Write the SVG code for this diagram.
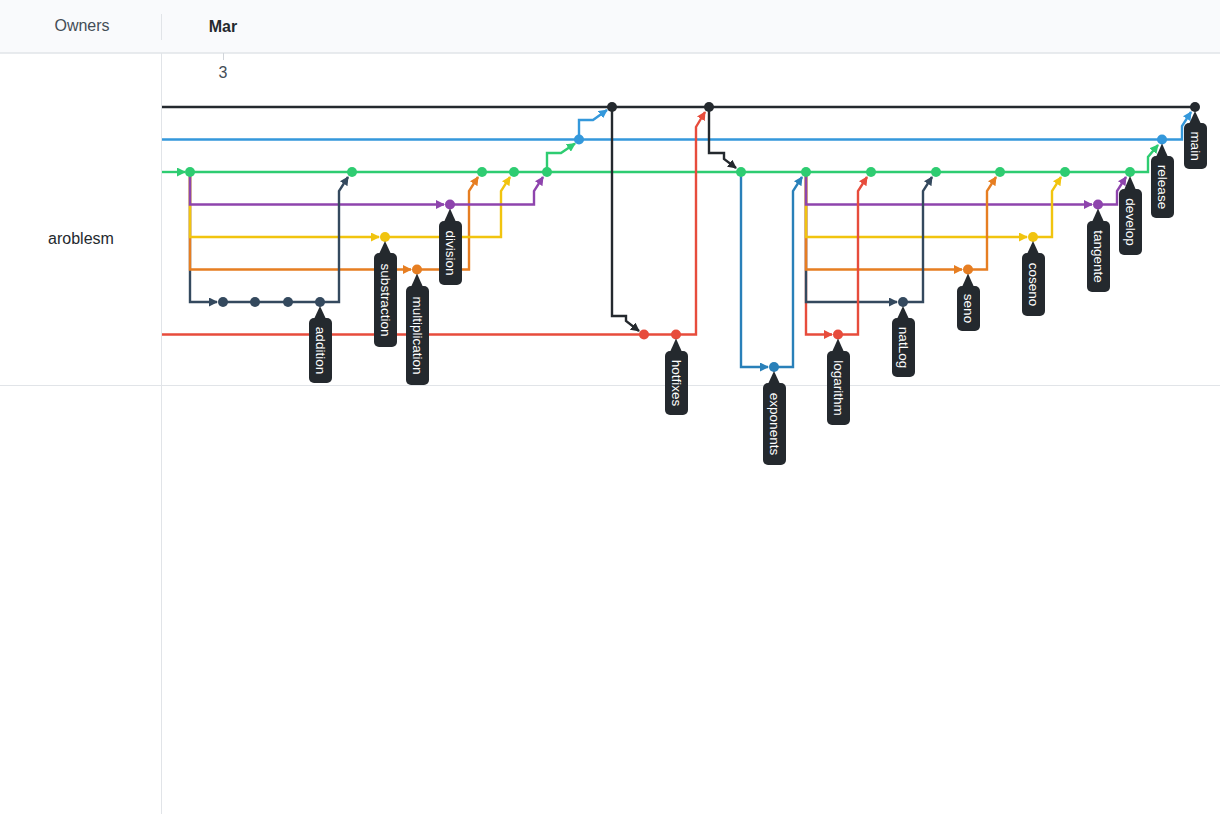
<svg xmlns="http://www.w3.org/2000/svg" width="1220" height="814" viewBox="0 0 1220 814">
<style>
.ln{fill:none;stroke-width:2.4;stroke-linejoin:miter}
.k{stroke:#24292e}.b{stroke:#3498db}.g{stroke:#2ecc71}.p{stroke:#8e44ad}.y{stroke:#f1c40f}.o{stroke:#e67e22}.n{stroke:#34495e}.r{stroke:#e74c3c}.e{stroke:#2980b9}
.lbl rect,.lbl path{fill:#24292e}
.lbl text{fill:#ffffff;font-family:"Liberation Sans",Arial,sans-serif;font-size:13.5px;text-anchor:middle;dominant-baseline:central}
.hd{font-family:"Liberation Sans",Arial,sans-serif;font-size:16px;text-anchor:middle}
</style>
<defs>
<marker id="aK" markerWidth="9" markerHeight="9" refX="8" refY="4.5" orient="auto" markerUnits="userSpaceOnUse"><path d="M0,0 L9,4.5 L0,9 z" fill="#24292e"/></marker>
<marker id="aB" markerWidth="9" markerHeight="9" refX="8" refY="4.5" orient="auto" markerUnits="userSpaceOnUse"><path d="M0,0 L9,4.5 L0,9 z" fill="#3498db"/></marker>
<marker id="aG" markerWidth="9" markerHeight="9" refX="8" refY="4.5" orient="auto" markerUnits="userSpaceOnUse"><path d="M0,0 L9,4.5 L0,9 z" fill="#2ecc71"/></marker>
<marker id="aP" markerWidth="9" markerHeight="9" refX="8" refY="4.5" orient="auto" markerUnits="userSpaceOnUse"><path d="M0,0 L9,4.5 L0,9 z" fill="#8e44ad"/></marker>
<marker id="aY" markerWidth="9" markerHeight="9" refX="8" refY="4.5" orient="auto" markerUnits="userSpaceOnUse"><path d="M0,0 L9,4.5 L0,9 z" fill="#f1c40f"/></marker>
<marker id="aO" markerWidth="9" markerHeight="9" refX="8" refY="4.5" orient="auto" markerUnits="userSpaceOnUse"><path d="M0,0 L9,4.5 L0,9 z" fill="#e67e22"/></marker>
<marker id="aN" markerWidth="9" markerHeight="9" refX="8" refY="4.5" orient="auto" markerUnits="userSpaceOnUse"><path d="M0,0 L9,4.5 L0,9 z" fill="#34495e"/></marker>
<marker id="aR" markerWidth="9" markerHeight="9" refX="8" refY="4.5" orient="auto" markerUnits="userSpaceOnUse"><path d="M0,0 L9,4.5 L0,9 z" fill="#e74c3c"/></marker>
<marker id="aE" markerWidth="9" markerHeight="9" refX="8" refY="4.5" orient="auto" markerUnits="userSpaceOnUse"><path d="M0,0 L9,4.5 L0,9 z" fill="#2980b9"/></marker>
</defs>
<rect x="0" y="0" width="1220" height="814" fill="#ffffff"/>
<g id="header">
<rect x="0" y="0" width="1220" height="53" fill="#f9fafc"/>
<line x1="0" y1="53" x2="1220" y2="53" stroke="#e1e4e8" stroke-width="1.5"/>
<line x1="161.5" y1="14" x2="161.5" y2="40" stroke="#e1e4e8" stroke-width="1"/>
<text class="hd" x="82" y="31" fill="#444d56">Owners</text>
<text class="hd" x="223" y="32" fill="#24292e" font-weight="bold">Mar</text>
</g>
<g id="grid">
<line x1="161.5" y1="53" x2="161.5" y2="814" stroke="#e1e4e8" stroke-width="1"/>
<line x1="0" y1="385.5" x2="1220" y2="385.5" stroke="#e1e4e8" stroke-width="1"/>
<line x1="223.5" y1="53" x2="223.5" y2="60" stroke="#d1d5da" stroke-width="1"/>
<text class="hd" x="223" y="78" fill="#444d56" font-size="15">3</text>
<text class="hd" x="81" y="244" fill="#24292e" font-size="17.5">aroblesm</text>
</g>
<g id="connectors">
<path class="ln k" d="M162,107 H1195"/>
<path class="ln b" d="M162,139.5 H1182 V126 L1191,112" marker-end="url(#aB)"/>
<path class="ln b" d="M579,139.5 V120 H593 L607,110" marker-end="url(#aB)"/>
<path class="ln g" d="M162,172 H185" marker-end="url(#aG)"/>
<path class="ln g" d="M190,172 H1148 V157 L1158,145" marker-end="url(#aG)"/>
<path class="ln g" d="M547,172 V153 H561 L575,143.5" marker-end="url(#aG)"/>
<path class="ln n" d="M190,172 V302 H217" marker-end="url(#aN)"/>
<path class="ln o" d="M190,172 V269.5 H411" marker-end="url(#aO)"/>
<path class="ln y" d="M190,172 V237 H379" marker-end="url(#aY)"/>
<path class="ln p" d="M190,172 V204.5 H444" marker-end="url(#aP)"/>
<path class="ln n" d="M223,302 H339 V191 L348,177" marker-end="url(#aN)"/>
<path class="ln o" d="M417,269.5 H469 V191 L478,177" marker-end="url(#aO)"/>
<path class="ln y" d="M385,237 H501 V191 L510,177" marker-end="url(#aY)"/>
<path class="ln p" d="M450,204.5 H534 V191 L543,177" marker-end="url(#aP)"/>
<path class="ln k" d="M612,107 V316 H626 V321 L639,331" marker-end="url(#aK)"/>
<path class="ln r" d="M162,334.5 H696 V127 L705,112" marker-end="url(#aR)"/>
<path class="ln k" d="M709,107 V153 H724 V159 L736,168" marker-end="url(#aK)"/>
<path class="ln e" d="M741,172 V367 H768" marker-end="url(#aE)"/>
<path class="ln e" d="M774,367 H793 V191 L802,177" marker-end="url(#aE)"/>
<path class="ln r" d="M806,172 V334.5 H832" marker-end="url(#aR)"/>
<path class="ln n" d="M806,172 V302 H897" marker-end="url(#aN)"/>
<path class="ln o" d="M806,172 V269.5 H962" marker-end="url(#aO)"/>
<path class="ln y" d="M806,172 V237 H1027" marker-end="url(#aY)"/>
<path class="ln p" d="M806,172 V204.5 H1092" marker-end="url(#aP)"/>
<path class="ln r" d="M838,334.5 H858 V191 L867,177" marker-end="url(#aR)"/>
<path class="ln n" d="M903,302 H923 V191 L932,177" marker-end="url(#aN)"/>
<path class="ln o" d="M968,269.5 H987 V191 L996,177" marker-end="url(#aO)"/>
<path class="ln y" d="M1033,237 H1052 V191 L1061,177" marker-end="url(#aY)"/>
<path class="ln p" d="M1098,204.5 H1117 V191 L1126,177" marker-end="url(#aP)"/>
</g>
<g id="commits">
<g fill="#24292e"><circle cx="612" cy="107" r="5"/><circle cx="709" cy="107" r="5"/><circle cx="1195" cy="107" r="5"/></g>
<g fill="#3498db"><circle cx="579" cy="139.5" r="5"/><circle cx="1162" cy="139.5" r="5"/></g>
<g fill="#2ecc71"><circle cx="190" cy="172" r="5"/><circle cx="352" cy="172" r="5"/><circle cx="482" cy="172" r="5"/><circle cx="514" cy="172" r="5"/><circle cx="547" cy="172" r="5"/><circle cx="741" cy="172" r="5"/><circle cx="806" cy="172" r="5"/><circle cx="871" cy="172" r="5"/><circle cx="936" cy="172" r="5"/><circle cx="1000" cy="172" r="5"/><circle cx="1065" cy="172" r="5"/><circle cx="1130" cy="172" r="5"/></g>
<g fill="#8e44ad"><circle cx="450" cy="204.5" r="5"/><circle cx="1098" cy="204.5" r="5"/></g>
<g fill="#f1c40f"><circle cx="385" cy="237" r="5"/><circle cx="1033" cy="237" r="5"/></g>
<g fill="#e67e22"><circle cx="417" cy="269.5" r="5"/><circle cx="968" cy="269.5" r="5"/></g>
<g fill="#34495e"><circle cx="223" cy="302" r="5"/><circle cx="255" cy="302" r="5"/><circle cx="288" cy="302" r="5"/><circle cx="320" cy="302" r="5"/><circle cx="903" cy="302" r="5"/></g>
<g fill="#e74c3c"><circle cx="644" cy="334.5" r="5"/><circle cx="676" cy="334.5" r="5"/><circle cx="838" cy="334.5" r="5"/></g>
<g fill="#2980b9"><circle cx="774" cy="367" r="5"/></g>
</g>
<g id="label-addition" class="lbl"><path d="M320,306 L326,319 L314,319 z"/><rect x="309" y="318" width="23" height="65" rx="5"/><text transform="translate(320.5,350.5) rotate(90)">addition</text></g>
<g id="label-substraction" class="lbl"><path d="M385,241 L391,254 L379,254 z"/><rect x="374" y="253" width="23" height="94" rx="5"/><text transform="translate(385.5,300) rotate(90)">substraction</text></g>
<g id="label-multiplication" class="lbl"><path d="M417,273.5 L423,287 L411,287 z"/><rect x="406" y="286" width="23" height="99" rx="5"/><text transform="translate(417.5,335.5) rotate(90)">multiplication</text></g>
<g id="label-division" class="lbl"><path d="M450,208.5 L456,222 L444,222 z"/><rect x="439" y="221" width="23" height="64" rx="5"/><text transform="translate(450.5,253) rotate(90)">division</text></g>
<g id="label-hotfixes" class="lbl"><path d="M676,338.5 L682,352 L670,352 z"/><rect x="665" y="351" width="23" height="64" rx="5"/><text transform="translate(676.5,383) rotate(90)">hotfixes</text></g>
<g id="label-exponents" class="lbl"><path d="M774,371 L780,384 L768,384 z"/><rect x="763" y="383" width="23" height="82" rx="5"/><text transform="translate(774.5,424) rotate(90)">exponents</text></g>
<g id="label-logarithm" class="lbl"><path d="M838,338.5 L844,352 L832,352 z"/><rect x="827" y="351" width="23" height="74" rx="5"/><text transform="translate(838.5,388) rotate(90)">logarithm</text></g>
<g id="label-natLog" class="lbl"><path d="M903,306 L909,319 L897,319 z"/><rect x="892" y="318" width="23" height="59" rx="5"/><text transform="translate(903.5,347.5) rotate(90)">natLog</text></g>
<g id="label-seno" class="lbl"><path d="M968,273.5 L974,287 L962,287 z"/><rect x="957" y="286" width="23" height="45" rx="5"/><text transform="translate(968.5,308.5) rotate(90)">seno</text></g>
<g id="label-coseno" class="lbl"><path d="M1033,241 L1039,254 L1027,254 z"/><rect x="1022" y="253" width="23" height="63" rx="5"/><text transform="translate(1033.5,284.5) rotate(90)">coseno</text></g>
<g id="label-tangente" class="lbl"><path d="M1098,208.5 L1104,222 L1092,222 z"/><rect x="1087" y="221" width="23" height="71" rx="5"/><text transform="translate(1098.5,256.5) rotate(90)">tangente</text></g>
<g id="label-develop" class="lbl"><path d="M1130,176 L1136,190 L1124,190 z"/><rect x="1119" y="189" width="23" height="66" rx="5"/><text transform="translate(1130.5,222) rotate(90)">develop</text></g>
<g id="label-release" class="lbl"><path d="M1162,143.5 L1168,157 L1156,157 z"/><rect x="1151" y="156" width="23" height="62" rx="5"/><text transform="translate(1162.5,187) rotate(90)">release</text></g>
<g id="label-main" class="lbl"><path d="M1195,111 L1201,124 L1189,124 z"/><rect x="1184" y="123" width="23" height="46" rx="5"/><text transform="translate(1195.5,146) rotate(90)">main</text></g>
</svg>
